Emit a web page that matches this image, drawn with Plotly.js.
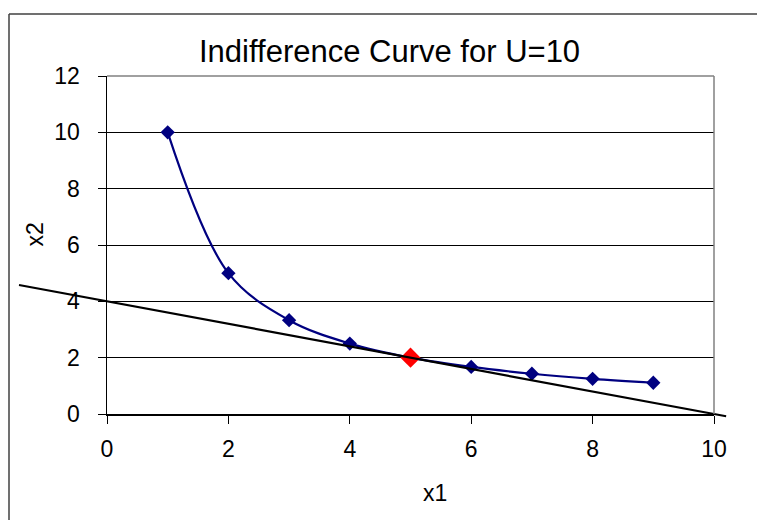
<!DOCTYPE html>
<html><head><meta charset="utf-8">
<script src="https://cdn.plot.ly/plotly-3.0.1.min.js"></script>
<style>html,body{margin:0;padding:0;background:#fff;}#chart{width:757px;height:520px;}</style>
</head><body><div id="chart"></div>
<script>
var x1Values = [1, 2, 3, 4, 5, 6, 7, 8, 9];
var x2Values = [10, 5, 3.33, 2.5, 2, 1.67, 1.43, 1.25, 1.11];
var optimumX = [5];
var optimumY = [2];
var tangentX = [-1.45, 10.2];
var tangentY = [4.58, -0.08];
var xTicks = [0, 2, 4, 6, 8, 10];
var yTicks = [0, 2, 4, 6, 8, 10, 12];

var W = 757, H = 520;
var L = 107, R = 714, T = 76, B = 414;
var sx = (R - L) / 10, sy = (B - T) / 12;
var font = "Liberation Sans, Arial, sans-serif";

var traces = [
  {x: x1Values, y: x2Values, xaxis: 'x', yaxis: 'y', mode: 'lines+markers',
   line: {color: '#000080', width: 2.2, shape: 'spline', smoothing: 1},
   marker: {symbol: 'diamond', size: 11, color: '#000080'}, cliponaxis: false, showlegend: false},
  {x: optimumX, y: optimumY, xaxis: 'x', yaxis: 'y', mode: 'markers',
   marker: {symbol: 'diamond', size: 15.5, color: '#ff0000'}, cliponaxis: false, showlegend: false},
  {x: tangentX, y: tangentY, xaxis: 'x2', yaxis: 'y2', mode: 'lines',
   line: {color: '#000000', width: 2.2}, hoverinfo: 'skip', showlegend: false}
];

var layout = {
  width: W, height: H,
  margin: {l: 0, r: 0, t: 0, b: 0},
  paper_bgcolor: '#ffffff', plot_bgcolor: 'rgba(0,0,0,0)',
  showlegend: false,
  font: {family: font, color: '#000000'},
  xaxis: {domain: [L / W, R / W], range: [0, 10], anchor: 'y',
    tickvals: xTicks, ticks: 'outside', ticklen: 8, tickcolor: '#000', tickwidth: 1,
    showline: true, linecolor: '#000', linewidth: 1.5, showgrid: false, zeroline: false,
    ticklabelstandoff: 6,
    tickfont: {size: 23, family: font, color: '#000'}},
  yaxis: {domain: [1 - B / H, 1 - T / H], range: [0, 12], anchor: 'x',
    tickvals: yTicks, ticks: 'outside', ticklen: 8, tickcolor: '#000', tickwidth: 1,
    showline: true, linecolor: '#000', linewidth: 1.5, showgrid: true, gridcolor: '#000', gridwidth: 1,
    zeroline: false, ticklabelstandoff: 13,
    tickfont: {size: 23, family: font, color: '#000'}},
  xaxis2: {domain: [0, 1], range: [-L / sx, (W - L) / sx], visible: false, fixedrange: true, anchor: 'y2'},
  yaxis2: {domain: [0, 1], range: [-(H - B) / sy, B / sy], visible: false, fixedrange: true, anchor: 'x2'},
  shapes: [
    {type: 'line', xref: 'paper', yref: 'paper', x0: 9 / W, x1: 1.02, y0: 1 - 14 / H, y1: 1 - 14 / H, line: {color: '#404040', width: 1.5}},
    {type: 'line', xref: 'paper', yref: 'paper', x0: 9 / W, x1: 9 / W, y0: -0.02, y1: 1 - 14 / H, line: {color: '#404040', width: 1.5}},
    {type: 'line', xref: 'paper', yref: 'paper', x0: L / W, x1: R / W, y0: 1 - T / H, y1: 1 - T / H, line: {color: '#808080', width: 1.5}},
    {type: 'line', xref: 'paper', yref: 'paper', x0: R / W, x1: R / W, y0: 1 - B / H, y1: 1 - T / H, line: {color: '#808080', width: 1.5}}
  ],
  annotations: [
    {text: 'Indifference Curve for U=10', xref: 'paper', yref: 'paper', x: 389 / W, y: 1 - 52 / H,
     xanchor: 'center', yanchor: 'middle', showarrow: false, font: {size: 31, family: font, color: '#000'}},
    {text: 'x1', xref: 'paper', yref: 'paper', x: 435 / W, y: 1 - 493 / H,
     xanchor: 'center', yanchor: 'middle', showarrow: false, font: {size: 23, family: font, color: '#000'}},
    {text: 'x2', xref: 'paper', yref: 'paper', x: 35 / W, y: 1 - 234.5 / H, textangle: -90,
     xanchor: 'center', yanchor: 'middle', showarrow: false, font: {size: 23, family: font, color: '#000'}}
  ]
};

Plotly.newPlot('chart', traces, layout, {displayModeBar: false, staticPlot: true});
</script>
</body></html>
